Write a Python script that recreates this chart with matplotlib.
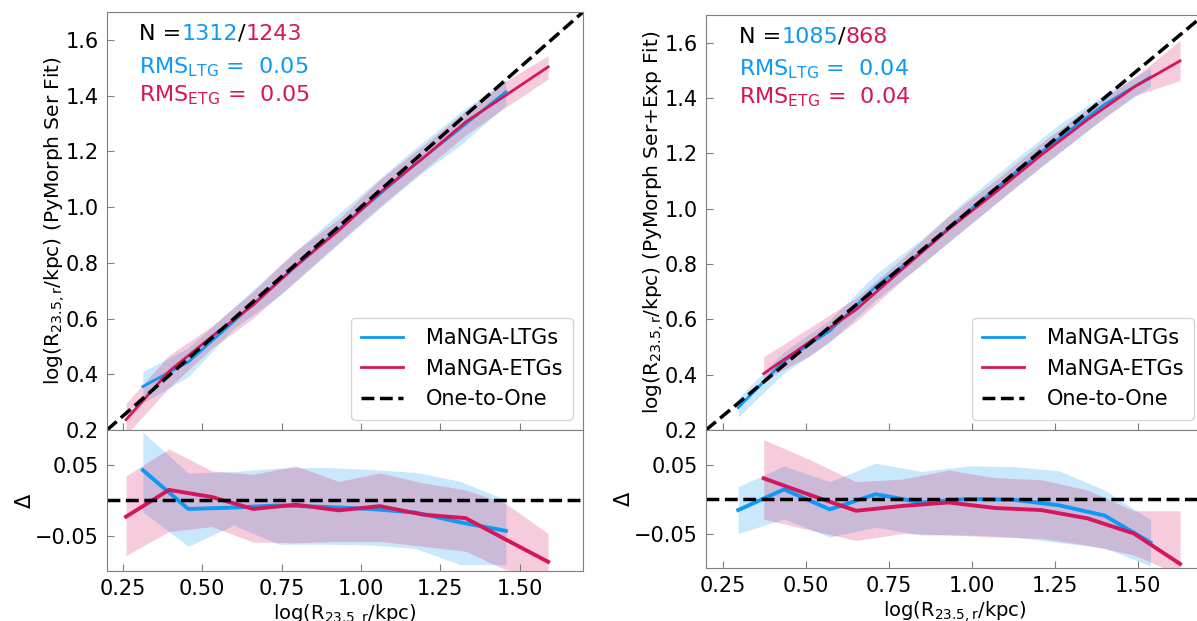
import numpy as np
import matplotlib
matplotlib.use("Agg")
import matplotlib.pyplot as plt

BLUE = '#0C9AF5'
RED = '#D6165C'

# ---- left: PyMorph Ser fit ----
l_ltg_x = [0.313, 0.456, 0.599, 0.742, 0.885, 1.028, 1.171, 1.314, 1.457]
l_ltg_y = [0.356, 0.444, 0.589, 0.735, 0.876, 1.016, 1.154, 1.283, 1.414]
l_ltg_ylo = [0.297, 0.391, 0.564, 0.680, 0.823, 0.965, 1.103, 1.223, 1.366]
l_ltg_yhi = [0.410, 0.495, 0.640, 0.788, 0.932, 1.072, 1.211, 1.341, 1.458]
l_ltg_d = [0.043, -0.012, -0.010, -0.007, -0.009, -0.012, -0.017, -0.031, -0.043]
l_ltg_dlo = [-0.016, -0.065, -0.035, -0.062, -0.062, -0.063, -0.068, -0.091, -0.091]
l_ltg_dhi = [0.097, 0.039, 0.041, 0.046, 0.047, 0.044, 0.040, 0.027, 0.001]

l_etg_x = [0.260, 0.395, 0.530, 0.660, 0.795, 0.930, 1.060, 1.195, 1.330, 1.455, 1.590]
l_etg_y = [0.237, 0.410, 0.535, 0.648, 0.789, 0.916, 1.052, 1.175, 1.305, 1.400, 1.503]
l_etg_ylo = [0.182, 0.351, 0.493, 0.601, 0.735, 0.872, 1.002, 1.130, 1.258, 1.357, 1.460]
l_etg_yhi = [0.295, 0.468, 0.572, 0.697, 0.844, 0.957, 1.099, 1.220, 1.345, 1.451, 1.543]
l_etg_d = [-0.023, 0.015, 0.005, -0.012, -0.006, -0.014, -0.008, -0.020, -0.025, -0.055, -0.087]
l_etg_dlo = [-0.078, -0.044, -0.037, -0.059, -0.060, -0.058, -0.058, -0.065, -0.072, -0.098, -0.110]
l_etg_dhi = [0.035, 0.073, 0.042, 0.037, 0.049, 0.027, 0.039, 0.025, 0.015, -0.004, -0.047]

# ---- right: PyMorph Ser+Exp fit ----
r_ltg_x = [0.297, 0.435, 0.573, 0.711, 0.849, 0.987, 1.125, 1.263, 1.401, 1.539]
r_ltg_y = [0.281, 0.449, 0.558, 0.718, 0.844, 0.987, 1.124, 1.254, 1.377, 1.476]
r_ltg_ylo = [0.247, 0.406, 0.518, 0.670, 0.797, 0.935, 1.070, 1.200, 1.330, 1.442]
r_ltg_yhi = [0.315, 0.483, 0.598, 0.763, 0.889, 1.035, 1.172, 1.304, 1.414, 1.509]
r_ltg_d = [-0.016, 0.014, -0.015, 0.007, -0.005, 0.000, -0.001, -0.009, -0.024, -0.063]
r_ltg_dlo = [-0.050, -0.029, -0.055, -0.041, -0.052, -0.052, -0.055, -0.063, -0.071, -0.097]
r_ltg_dhi = [0.018, 0.048, 0.025, 0.052, 0.040, 0.048, 0.047, 0.041, 0.013, -0.030]

r_etg_x = [0.374, 0.513, 0.652, 0.792, 0.931, 1.071, 1.210, 1.349, 1.489, 1.628]
r_etg_y = [0.404, 0.519, 0.635, 0.782, 0.926, 1.058, 1.194, 1.321, 1.439, 1.534]
r_etg_ylo = [0.381, 0.468, 0.592, 0.742, 0.879, 1.016, 1.153, 1.282, 1.408, 1.463]
r_etg_yhi = [0.465, 0.570, 0.677, 0.821, 0.973, 1.102, 1.238, 1.362, 1.472, 1.608]
r_etg_d = [0.030, 0.006, -0.017, -0.010, -0.005, -0.013, -0.016, -0.028, -0.050, -0.094]
r_etg_dlo = [-0.029, -0.045, -0.060, -0.050, -0.052, -0.055, -0.057, -0.067, -0.081, -0.110]
r_etg_dhi = [0.086, 0.057, 0.025, 0.029, 0.042, 0.031, 0.028, 0.013, -0.017, -0.017]

panels = [
    dict(n_ltg='1312', n_etg='1243', rms_ltg='0.05', rms_etg='0.05',
         ylabel=r'log(R$_{\rm 23.5,r}$/kpc) (PyMorph Ser Fit)',
         top=[0.0894, 0.3076, 0.3977, 0.6731], bot=[0.0894, 0.0805, 0.3977, 0.2271],
         ltg=(l_ltg_x, l_ltg_y, l_ltg_ylo, l_ltg_yhi, l_ltg_d, l_ltg_dlo, l_ltg_dhi),
         etg=(l_etg_x, l_etg_y, l_etg_ylo, l_etg_yhi, l_etg_d, l_etg_dlo, l_etg_dhi)),
    dict(n_ltg='1085', n_etg='868', rms_ltg='0.04', rms_etg='0.04',
         ylabel=r'log(R$_{\rm 23.5,r}$/kpc) (PyMorph Ser+Exp Fit)',
         top=[0.5898, 0.3076, 0.4160, 0.6683], bot=[0.5898, 0.0853, 0.4160, 0.2222],
         ltg=(r_ltg_x, r_ltg_y, r_ltg_ylo, r_ltg_yhi, r_ltg_d, r_ltg_dlo, r_ltg_dhi),
         etg=(r_etg_x, r_etg_y, r_etg_ylo, r_etg_yhi, r_etg_d, r_etg_dlo, r_etg_dhi)),
]

fig = plt.figure(figsize=(11.97, 6.21), dpi=100)


def style(ax):
    for s in ax.spines.values():
        s.set_color('#7f7f7f')
    ax.tick_params(direction='in', length=5, color='#7f7f7f', labelsize=15, pad=6)


for p in panels:
    ax = fig.add_axes(p['top'])
    axd = fig.add_axes(p['bot'])
    for ser, c, lab in [(p['ltg'], BLUE, 'MaNGA-LTGs'), (p['etg'], RED, 'MaNGA-ETGs')]:
        x, y, ylo, yhi, d, dlo, dhi = ser
        ax.fill_between(x, ylo, yhi, color=c, alpha=0.22, lw=0)
        ax.plot(x, y, color=c, lw=2, label=lab)
        axd.fill_between(x, dlo, dhi, color=c, alpha=0.22, lw=0)
        axd.plot(x, d, color=c, lw=2.8)
    ax.plot([0.2, 1.7], [0.2, 1.7], 'k--', lw=2.5, label='One-to-One')
    axd.axhline(0, color='k', ls='--', lw=2.5)

    ax.set_xlim(0.2, 1.7)
    ax.set_ylim(0.2, 1.7)
    ax.set_xticks([0.25, 0.5, 0.75, 1.0, 1.25, 1.5])
    ax.set_xticklabels([])
    ax.set_yticks([0.2, 0.4, 0.6, 0.8, 1.0, 1.2, 1.4, 1.6])
    ax.set_ylabel(p['ylabel'], fontsize=14.5, labelpad=-1)
    style(ax)
    ax.legend(loc='lower right', fontsize=15, handlelength=2.0, borderpad=0.5,
              labelspacing=0.5, handletextpad=1.1)

    axd.set_xlim(0.2, 1.7)
    axd.set_ylim(-0.1, 0.1)
    axd.set_xticks([0.25, 0.5, 0.75, 1.0, 1.25, 1.5])
    axd.set_yticks([-0.05, 0.05])
    axd.set_xlabel(r'log(R$_{\rm 23.5,r}$/kpc)', fontsize=14, labelpad=2)
    axd.set_ylabel(r'$\Delta$', fontsize=15, labelpad=0)
    style(axd)

    t = ax.text(0.067, 0.972, 'N =', transform=ax.transAxes, fontsize=16, va='top', color='k')
    t = ax.annotate(p['n_ltg'], xy=(1, 0), xycoords=t, va='bottom', fontsize=16, color=BLUE)
    t = ax.annotate('/', xy=(1, 0), xycoords=t, va='bottom', fontsize=16, color='k')
    ax.annotate(p['n_etg'], xy=(1, 0), xycoords=t, va='bottom', fontsize=16, color=RED)
    ax.text(0.067, 0.897, r'RMS$_{\rm LTG}$ =  ' + p['rms_ltg'], transform=ax.transAxes,
            fontsize=16, va='top', color=BLUE)
    ax.text(0.067, 0.830, r'RMS$_{\rm ETG}$ =  ' + p['rms_etg'], transform=ax.transAxes,
            fontsize=16, va='top', color=RED)

fig.savefig('out.png', dpi=100)
